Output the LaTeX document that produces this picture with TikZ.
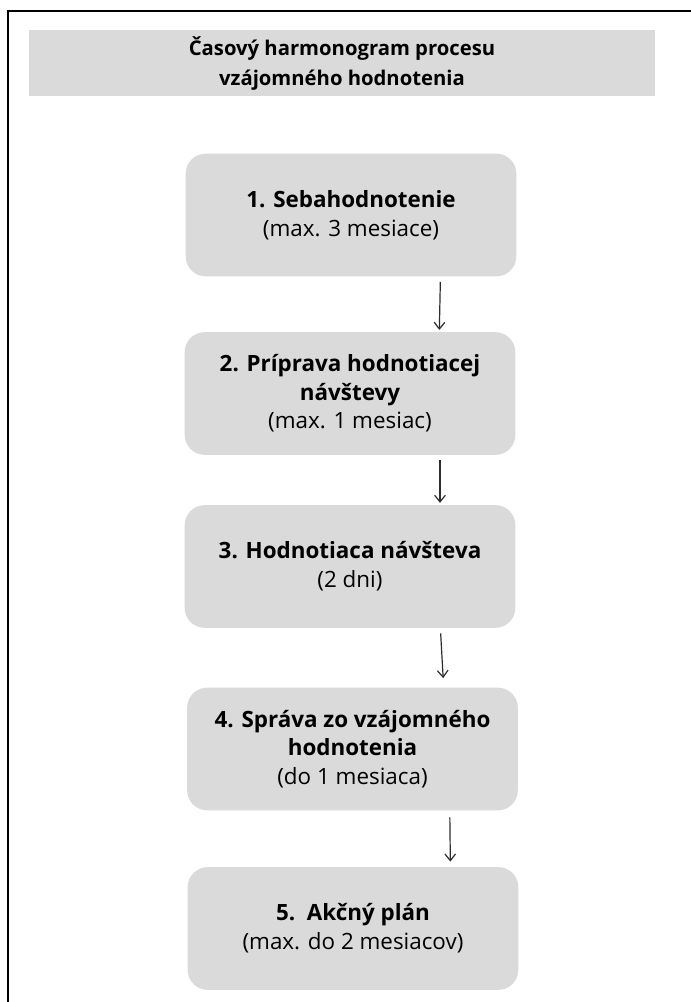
\documentclass[tikz,border=0pt]{standalone}
\usepackage{fontspec}
\setmainfont{Open Sans}
\usetikzlibrary{arrows.meta}
\usetikzlibrary{positioning}
\definecolor{boxgray}{RGB}{218,218,218}
\definecolor{linegray}{RGB}{45,45,45}

\begin{document}
\begin{tikzpicture}[x=0.75pt,y=-0.75pt,
    stepbox/.style={fill=boxgray,rounded corners=15pt,minimum width=248pt,
        minimum height=92pt,align=center,font=\fontsize{16.8}{21.5}\selectfont},
    titlebar/.style={fill=boxgray,minimum width=470pt,minimum height=49.5pt,
        align=center,font=\fontsize{15.2}{22.5}\selectfont\bfseries},
    arr/.style={linegray,line width=0.9pt,-{Straight Barb[length=5pt,width=8pt]}}]
    \useasboundingbox (0,0) rectangle (691,1002);
    \fill[white] (0,0) rectangle (691,1002);

    % frame
    \draw[line width=2pt] (8,1002) -- (8,11) -- (691,11);

    % title
    \node[titlebar] (title) at (342,63) {Časový harmonogram procesu\\vzájomného hodnotenia};

    % steps
    \node[stepbox] (b1) at (351,215) {\textbf{1. Sebahodnotenie}\\(max. 3 mesiace)};
    \node[stepbox] (b2) at (350,393.5) {\textbf{2. Príprava hodnotiacej}\\\textbf{návštevy}\\(max. 1 mesiac)};
    \node[stepbox] (b3) at (350,566.5) {\textbf{3. Hodnotiaca návšteva}\\(2 dni)};
    \node[stepbox] (b4) at (352.5,749) {\textbf{4. Správa zo vzájomného}\\\textbf{hodnotenia}\\(do 1 mesiaca)};
    \node[stepbox] (b5) at (353,928.5) {\textbf{5.\ \ Akčný plán}\\(max. do 2 mesiacov)};

    % arrows
    \draw[arr] ([xshift=67pt,yshift=-4pt]b1.south) -- ([xshift=67pt,yshift=1.5pt]b2.north);
    \draw[arr] ([xshift=67.5pt,yshift=-4pt]b2.south) -- ([xshift=67.5pt,yshift=1.5pt]b3.north);
    \draw[arr] ([xshift=68pt,yshift=-4pt]b3.south) -- ([xshift=68pt,yshift=7pt]b4.north);
    \draw[arr] ([xshift=73pt,yshift=-5pt]b4.south) -- ([xshift=73pt,yshift=4pt]b5.north);
\end{tikzpicture}
\end{document}
